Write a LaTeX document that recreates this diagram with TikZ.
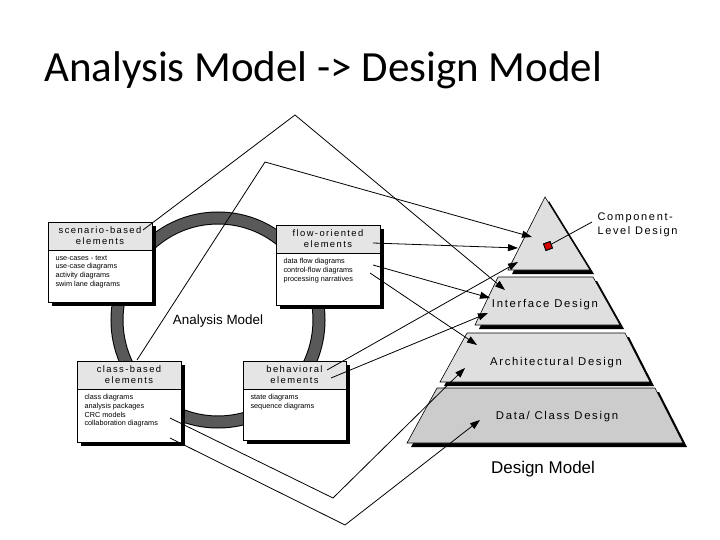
\documentclass[tikz,border=0pt]{standalone}
\usepackage{fontspec}
\setmainfont{Liberation Sans}
\newfontfamily\titlefont{Carlito}
\usetikzlibrary{arrows.meta}
\begin{document}
\begin{tikzpicture}[x=1pt,y=-1pt,
  arr/.style={-{Triangle[length=10pt,width=7pt]},line width=0.8pt},
  ln/.style={line width=0.8pt},
  hdr/.style={font=\fontsize{9.4}{11}\selectfont\addfontfeature{LetterSpace=15},align=center},
  body/.style={font=\fontsize{7.3}{8.6}\selectfont,align=left,anchor=north west},
  lay/.style={fill=gray!25,draw=black,line width=0.6pt},
  laytxt/.style={font=\fontsize{11.3}{13}\selectfont\addfontfeature{LetterSpace=15}}]
\useasboundingbox (0,0) rectangle (720,540);
\node[anchor=base west,font=\titlefont\fontsize{43}{50}\selectfont,inner sep=0pt] (title) at (44,82) {Analysis Model -> Design Model};
% ring
\draw[line width=13pt,black] (218,320) ellipse (101 and 102);
\draw[line width=11pt,gray!70!black] (218,320) ellipse (101 and 102);
% boxes
\newcommand{\ebox}[7]{%
 \fill[black] (#2+4,#3+4) rectangle (#4+4,#5+4);
 \draw[fill=white,line width=0.6pt] (#2,#3) rectangle (#4,#5);
 \draw[fill=gray!20,line width=0.6pt] (#2,#3) rectangle (#4,#3+28);
 \node[hdr] (#1h) at ({(#2+#4)/2},#3+14) {#6};
 \node[body] (#1b) at (#2+4,#3+30) {#7};}
\ebox{sc}{48}{222}{152}{302}{scenario-based\\elements}{use-cases - text\\use-case diagrams\\activity diagrams\\swim lane diagrams}
\ebox{fl}{276}{225}{380}{305}{flow-oriented\\elements}{data flow diagrams\\control-flow diagrams\\processing narratives}
\ebox{cl}{77}{361}{181}{442}{class-based\\elements}{class diagrams\\analysis packages\\CRC models\\collaboration diagrams}
\ebox{be}{243}{361}{346}{440}{behavioral\\elements}{state diagrams\\sequence diagrams}
\node[font=\fontsize{13.4}{15}\selectfont] (am) at (218,321) {Analysis Model};
% pyramid
\fill (549,201) -- (594,274) -- (512,274) -- cycle;
\draw[lay] (545,197) -- (590,270) -- (508,270) -- cycle;
\fill (502,281) -- (597,281) -- (624,329) -- (479,329) -- cycle;
\draw[lay] (498,277) -- (593,277) -- (620,325) -- (475,325) -- cycle;
\fill (471,337) -- (629,337) -- (654,386) -- (444,386) -- cycle;
\draw[lay] (467,333) -- (625,333) -- (650,382) -- (440,382) -- cycle;
\fill (441,392) -- (659,392) -- (687,447) -- (411,447) -- cycle;
\draw[fill=gray!40,draw=black,line width=0.6pt] (437,388) -- (655,388) -- (683,443) -- (407,443) -- cycle;
\node[laytxt] (ifd) at (545,305) {Interface Design};
\node[laytxt] (ard) at (556,363) {Architectural Design};
\node[laytxt] (dcd) at (557,417) {Data/ Class Design};
\node[font=\fontsize{17}{19}\selectfont] (dm) at (543,469) {Design Model};
\node[font=\fontsize{11}{14}\selectfont\addfontfeature{LetterSpace=15},align=left,anchor=west] (cld) at (594,225) {Component-\\Level Design};
\node[draw=black,fill=red!85!black,line width=1pt,minimum size=7pt,inner sep=0pt,rotate=20] (rs) at (548,246) {};
\draw[ln] (rs) -- (592,222);
% coordinates
\coordinate (apx) at (295,115);
\coordinate (k1) at (265,162);
\coordinate (k2) at (333,498);
\coordinate (k3) at (345,525);
\coordinate (tcomp1) at (532,237);
\coordinate (tcomp2) at (518,248);
\coordinate (tcomp3) at (518,262);
\coordinate (tif1) at (505,290);
\coordinate (tif2) at (490,298);
\coordinate (tif3) at (488,313);
\coordinate (tar1) at (477,345);
\coordinate (tar2) at (465,368);
\coordinate (tdc) at (480,420);
\coordinate (s1) at (143,230);
\coordinate (c0) at (137,360);
\coordinate (f1) at (373,243);
\coordinate (f2) at (373,265);
\coordinate (f3) at (370,273);
\coordinate (b1) at (327,370);
\coordinate (b2) at (331,378);
\coordinate (c1) at (170,418);
\coordinate (c2) at (170,438);
% connectors
\draw[arr] (s1) -- (apx) -- (tif1);
\draw[arr] (c0) -- (k1) -- (tcomp1);
\draw[arr] (f1) -- (tcomp2);
\draw[arr] (f2) -- (tif2);
\draw[arr] (f3) -- (tar1);
\draw[arr] (b1) -- (tcomp3);
\draw[arr] (b2) -- (tif3);
\draw[arr] (c1) -- (k2) -- (tar2);
\draw[arr] (c2) -- (k3) -- (tdc);
\end{tikzpicture}
\end{document}
